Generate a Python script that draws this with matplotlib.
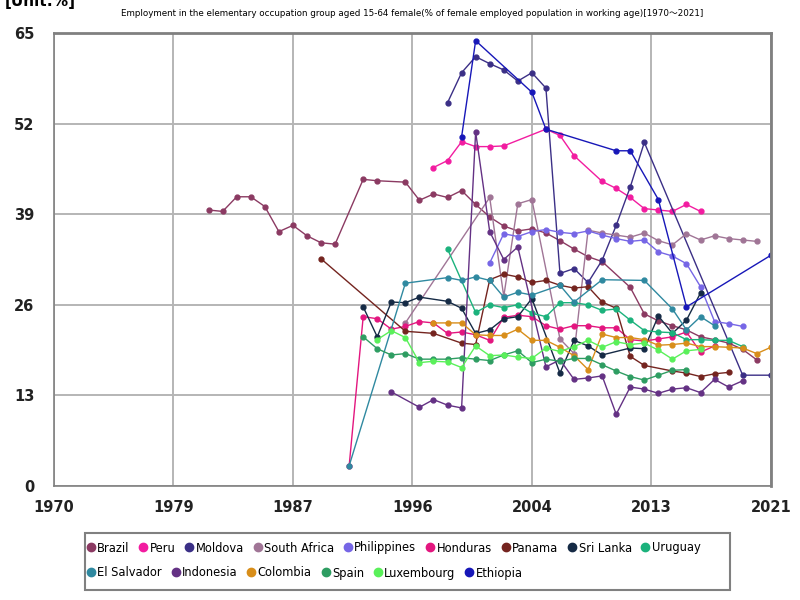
import matplotlib
matplotlib.use('Agg')
import matplotlib.pyplot as plt
from matplotlib.lines import Line2D
from matplotlib.patches import Rectangle

plt.rcParams['font.family'] = ['DejaVu Sans', 'Noto Sans CJK JP']

# 데이터
brazil_years = [1981, 1982, 1983, 1984, 1985, 1986, 1987, 1988, 1989, 1990, 1992, 1993, 1995, 1996,
                1997, 1998, 1999, 2000, 2001, 2002, 2003, 2004, 2005, 2006, 2007, 2008, 2009, 2011,
                2012, 2013, 2014, 2015, 2016, 2017, 2018, 2019, 2020]
brazil_vals = [39.6, 39.4, 41.5, 41.5, 40.1, 36.5, 37.4, 35.9, 34.9, 34.7, 44.0, 43.8, 43.6, 41.0,
               41.9, 41.4, 42.4, 40.4, 38.6, 37.3, 36.6, 36.9, 36.3, 35.2, 34.0, 32.9, 32.2, 28.5,
               24.7, 23.7, 23.0, 22.4, 21.4, 21.0, 20.5, 19.6, 18.1]

peru_years = [1997, 1998, 1999, 2000, 2001, 2002, 2005, 2006, 2007, 2009, 2010, 2011, 2012, 2013,
              2014, 2015, 2016]
peru_vals = [45.7, 46.7, 49.4, 48.7, 48.7, 48.8, 51.2, 50.3, 47.4, 43.7, 42.7, 41.4, 39.8, 39.6,
             39.4, 40.4, 39.4]

moldova_years = [1998, 1999, 2000, 2001, 2002, 2003, 2004, 2005, 2006, 2007, 2008, 2009, 2010,
                 2011, 2012, 2019, 2021]
moldova_vals = [55.0, 59.3, 61.6, 60.6, 59.7, 58.1, 59.3, 57.1, 30.5, 31.2, 29.2, 32.4, 37.4,
                42.9, 49.3, 15.9, 15.9]

safrica_years = [1995, 2001, 2002, 2003, 2004, 2006, 2007, 2008, 2009, 2010, 2011, 2012, 2013,
                 2014, 2015, 2016, 2017, 2018, 2019, 2020]
safrica_vals = [23.4, 41.4, 27.2, 40.5, 41.1, 21.1, 19.0, 36.7, 36.3, 36.0, 35.7, 36.3, 35.2,
                34.6, 36.2, 35.3, 35.9, 35.5, 35.3, 35.1]

phil_years = [2001, 2002, 2003, 2004, 2005, 2006, 2007, 2008, 2009, 2010, 2011, 2012, 2013, 2014,
              2015, 2016, 2017, 2018, 2019]
phil_vals = [32.0, 36.2, 35.8, 36.5, 36.8, 36.4, 36.2, 36.6, 36.0, 35.5, 35.1, 35.3, 33.6, 33.0,
             31.9, 28.6, 23.6, 23.3, 22.9]

honduras_years = [1991, 1992, 1993, 1994, 1995, 1996, 1997, 1998, 1999, 2000, 2001, 2002, 2003,
                  2004, 2005, 2006, 2007, 2008, 2009, 2010, 2011, 2012, 2013, 2014, 2015, 2016, 2017]
honduras_vals = [2.9, 24.3, 24.0, 22.5, 22.9, 23.6, 23.4, 21.9, 22.1, 21.7, 20.9, 24.2, 24.5,
                 24.3, 23.0, 22.5, 23.0, 23.0, 22.7, 22.7, 21.0, 20.8, 21.1, 21.4, 22.1, 19.2, 20.1]

panama_years = [1989, 1995, 1997, 1999, 2000, 2001, 2002, 2003, 2004, 2005, 2006, 2007, 2008,
                2009, 2010, 2011, 2012, 2014, 2015, 2016, 2017, 2018]
panama_vals = [32.6, 22.2, 21.9, 20.5, 20.3, 29.6, 30.4, 30.0, 29.2, 29.5, 28.8, 28.4, 28.6,
               26.4, 25.5, 18.6, 17.3, 16.5, 16.2, 15.7, 16.1, 16.3]

srilanka_years = [1992, 1993, 1994, 1995, 1996, 1998, 1999, 2000, 2001, 2002, 2003, 2004, 2006,
                  2007, 2008, 2009, 2011, 2012, 2013, 2014, 2015, 2016]
srilanka_vals = [25.7, 21.4, 26.4, 26.3, 27.1, 26.5, 25.5, 21.9, 22.4, 24.0, 24.3, 26.9, 16.2,
                 20.9, 20.1, 18.8, 19.8, 19.7, 24.4, 21.9, 23.8, 27.7]

uruguay_years = [1998, 2000, 2001, 2002, 2003, 2004, 2005, 2006, 2007, 2008, 2009, 2010, 2011,
                 2012, 2013, 2014, 2015, 2016, 2017, 2018, 2019]
uruguay_vals = [34.0, 24.9, 26.0, 25.6, 26.0, 24.8, 24.3, 26.3, 26.3, 26.0, 25.2, 25.4, 23.8,
                22.3, 22.1, 22.0, 21.0, 21.0, 20.9, 20.9, 20.0]

salvador_years = [1991, 1995, 1998, 1999, 2000, 2001, 2002, 2003, 2004, 2006, 2007, 2009, 2012,
                  2014, 2015, 2016, 2017]
salvador_vals = [2.9, 29.1, 29.9, 29.5, 30.0, 29.5, 27.1, 27.8, 27.4, 28.8, 26.4, 29.6, 29.5,
                 25.4, 22.4, 24.3, 23.0]

indonesia_years = [1994, 1996, 1997, 1998, 1999, 2000, 2001, 2002, 2003, 2005, 2006, 2007, 2008,
                   2009, 2010, 2011, 2012, 2013, 2014, 2015, 2016, 2017, 2018, 2019]
indonesia_vals = [13.5, 11.3, 12.4, 11.6, 11.2, 50.8, 36.5, 32.5, 34.3, 17.1, 18.1, 15.3, 15.5,
                  15.8, 10.3, 14.2, 13.9, 13.3, 13.9, 14.1, 13.4, 15.3, 14.2, 15.1]

colombia_years = [1997, 1998, 1999, 2000, 2001, 2002, 2003, 2004, 2005, 2006, 2007, 2008, 2009,
                  2010, 2011, 2012, 2013, 2014, 2015, 2016, 2017, 2018, 2019, 2020, 2021]
colombia_vals = [23.4, 23.4, 23.4, 21.7, 21.6, 21.6, 22.5, 20.9, 20.9, 19.9, 18.7, 16.7, 21.8,
                 21.3, 21.3, 21.0, 20.2, 20.3, 20.5, 20.0, 20.0, 19.9, 19.8, 19.0, 19.9]

spain_years = [1992, 1993, 1994, 1995, 1996, 1997, 1998, 1999, 2000, 2001, 2002, 2003, 2004, 2005,
               2006, 2007, 2008, 2009, 2010, 2011, 2012, 2013, 2014, 2015]
spain_vals = [21.4, 19.7, 18.8, 19.0, 18.2, 18.2, 18.2, 18.4, 18.2, 18.0, 18.8, 19.4, 17.7, 18.2,
              17.9, 18.3, 18.3, 17.4, 16.5, 15.7, 15.2, 15.9, 16.6, 16.7]

lux_years = [1993, 1994, 1995, 1996, 1997, 1998, 1999, 2000, 2001, 2002, 2003, 2004, 2005, 2006,
             2007, 2008, 2009, 2010, 2011, 2012, 2013, 2014, 2015, 2016]
lux_vals = [21.0, 22.3, 21.3, 17.7, 17.9, 17.8, 17.0, 20.1, 18.7, 18.8, 18.5, 18.3, 19.8, 19.3,
            20.0, 20.9, 19.9, 20.7, 20.3, 20.5, 19.5, 18.2, 19.4, 19.6]

ethiopia_years = [1999, 2000, 2004, 2005, 2010, 2011, 2013, 2015, 2021]
ethiopia_vals = [50.1, 63.9, 56.5, 51.2, 48.1, 48.1, 41.1, 25.7, 33.1]

series = [
    ('Brazil', brazil_years, brazil_vals, '#8b3a62'),
    ('Peru', peru_years, peru_vals, '#f21ca0'),
    ('Moldova', moldova_years, moldova_vals, '#3b2f86'),
    ('South Africa', safrica_years, safrica_vals, '#a07596'),
    ('Philippines', phil_years, phil_vals, '#7666e6'),
    ('Honduras', honduras_years, honduras_vals, '#e3167f'),
    ('Panama', panama_years, panama_vals, '#74241f'),
    ('Sri Lanka', srilanka_years, srilanka_vals, '#152a45'),
    ('Uruguay', uruguay_years, uruguay_vals, '#1bb27c'),
    ('El Salvador', salvador_years, salvador_vals, '#2f89a0'),
    ('Indonesia', indonesia_years, indonesia_vals, '#643184'),
    ('Colombia', colombia_years, colombia_vals, '#d88e1a'),
    ('Spain', spain_years, spain_vals, '#2e9d62'),
    ('Luxembourg', lux_years, lux_vals, '#5af05a'),
    ('Ethiopia', ethiopia_years, ethiopia_vals, '#1717b8'),
]

x_ticks = [1970, 1978.5, 1987, 1995.5, 2004, 2012.5, 2021]
x_labels = ['1970', '1979', '1987', '1996', '2004', '2013', '2021']
y_ticks = [0, 13, 26, 39, 52, 65]

fig = plt.figure(figsize=(8, 6), dpi=100)
ax = fig.add_axes([0.0675, 0.19, 0.896, 0.755])

for name, yrs, vals, col in series:
    ax.plot(yrs, vals, '-', color=col, linewidth=1, marker='o', markersize=3.5, label=name)

ax.set_xlim(1970, 2021)
ax.set_ylim(0, 65)
ax.set_xticks(x_ticks)
ax.set_xticklabels(x_labels)
ax.set_yticks(y_ticks)
ax.tick_params(length=0, labelsize=10.5, labelcolor='#222222')
ax.tick_params(axis='y', pad=14)
ax.tick_params(axis='x', pad=10)
for lab in ax.get_xticklabels() + ax.get_yticklabels():
    lab.set_fontweight('bold')
ax.grid(True, color='#b5b5b5', linewidth=1.4)
ax.set_axisbelow(True)
for side in ['left', 'bottom']:
    ax.spines[side].set_color('#808080')
    ax.spines[side].set_linewidth(1.2)
for side in ['top', 'right']:
    ax.spines[side].set_color('#808080')
    ax.spines[side].set_linewidth(2)

fig.text(0.515, 1 - 13 / 600,
         'Employment in the elementary occupation group aged 15-64 female(% of female employed population in working age)[1970～2021]',
         ha='center', va='center', fontsize=6.3)
fig.text(0.006, 0.99, '[Unit:%]', fontsize=11, fontweight='bold', va='baseline')

# 범례: 두 줄로 따로 그리고 바깥 테두리는 직접 그림
handles = [Line2D([], [], linestyle='none', marker='o', markersize=6, color=s[3]) for s in series]
labels = [s[0] for s in series]
rows = [(range(0, 9), 1 - 548 / 600), (range(9, 15), 1 - 573 / 600)]
for idx, ypos in rows:
    lg = fig.legend([handles[i] for i in idx], [labels[i] for i in idx],
                    loc='center left', bbox_to_anchor=(77 / 800, ypos), ncol=len(idx),
                    fontsize=8.3, frameon=False, handletextpad=0.05, columnspacing=0.7,
                    handlelength=1.0, borderpad=0.2)
fig.patches.append(Rectangle((85 / 800, 1 - 590 / 600), 645 / 800, 57 / 600,
                             transform=fig.transFigure, fill=False,
                             edgecolor='#808080', linewidth=1.5))

fig.savefig('out.png', dpi=100)
